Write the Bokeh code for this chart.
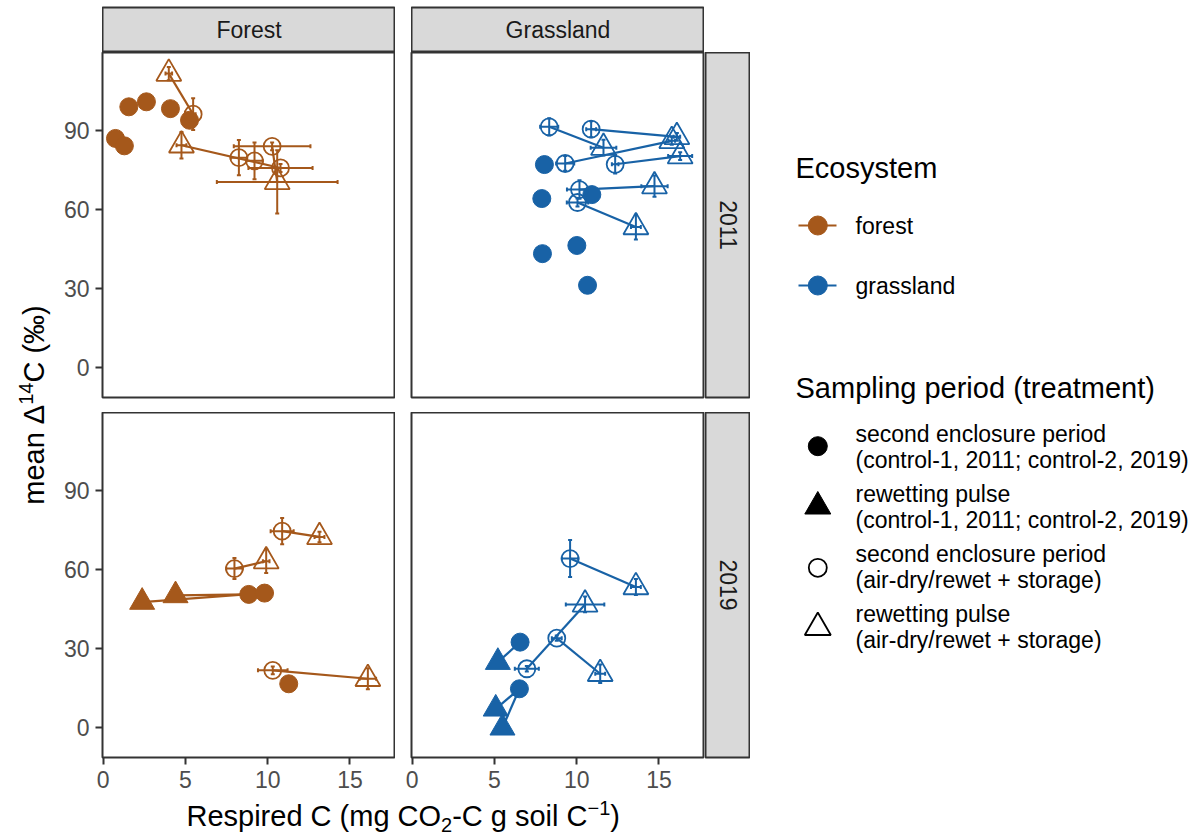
import math
from bokeh.plotting import figure
from bokeh.layouts import row, column
from bokeh.models import Range1d, Label, FixedTicker, Whisker, TeeHead, ColumnDataSource, Spacer
from bokeh.embed import file_html
from bokeh.resources import INLINE

FONT = "Liberation Sans"
BROWN = "#A5581B"
BLUE = "#1862A6"

# ---------------- data ----------------
facet_cols = ["Forest", "Grassland"]
facet_rows = ["2011", "2019"]
x_ticks = [0, 5, 10, 15]
y_ticks = [0, 30, 60, 90]

# Forest 2011
f11_ctl_enc_x = [0.75, 1.29, 1.56, 2.63, 4.09, 5.25]
f11_ctl_enc_y = [87.0, 84.2, 99.0, 100.9, 98.3, 93.9]
f11_ctl_pul_x = []
f11_ctl_pul_y = []
f11_ctl_links = []
f11_dry_enc_x = [5.47, 8.25, 9.20, 10.27, 10.78]
f11_dry_enc_y = [96.2, 79.7, 78.5, 84.0, 75.8]
f11_dry_enc_xe = [0.15, 0.5, 0.5, 2.33, 1.95]
f11_dry_enc_ye = [6.0, 6.7, 7.0, 1.5, 1.5]
f11_dry_pul_x = [3.99, 4.76, 10.58]
f11_dry_pul_y = [111.6, 84.4, 70.5]
f11_dry_pul_xe = [0.2, 0.3, 3.67]
f11_dry_pul_ye = [2.5, 5.0, 12.0]
f11_dry_links = [(0, 0), (4, 1), (3, 2)]

# Grassland 2011
g11_ctl_enc_x = [8.04, 7.88, 10.92, 10.01, 7.92, 10.66]
g11_ctl_enc_y = [77.1, 64.2, 65.7, 46.4, 43.3, 31.3]
g11_ctl_pul_x = []
g11_ctl_pul_y = []
g11_ctl_links = []
g11_dry_enc_x = [8.33, 10.88, 9.30, 12.34, 10.17, 10.05]
g11_dry_enc_y = [91.4, 90.5, 77.5, 77.2, 67.6, 62.7]
g11_dry_enc_xe = [0.55, 0.3, 0.55, 0.2, 0.76, 0.65]
g11_dry_enc_ye = [3.3, 3.0, 2.8, 3.5, 3.5, 1.5]
g11_dry_pul_x = [11.63, 16.09, 15.78, 16.29, 14.73, 13.60]
g11_dry_pul_y = [83.5, 87.6, 86.1, 80.3, 68.9, 53.4]
g11_dry_pul_xe = [0.78, 0.2, 0.2, 0.73, 0.8, 0.3]
g11_dry_pul_ye = [3.0, 1.5, 1.5, 1.5, 4.0, 4.7]
g11_dry_links = [(0, 0), (1, 1), (2, 2), (3, 3), (4, 4), (5, 5)]

# Forest 2019
f19_ctl_enc_x = [8.85, 9.81, 11.28]
f19_ctl_enc_y = [50.6, 51.1, 16.7]
f19_ctl_pul_x = [2.37, 4.40]
f19_ctl_pul_y = [47.7, 50.2]
f19_ctl_links = [(1, 0), (0, 1)]
f19_dry_enc_x = [10.88, 7.98, 10.31]
f19_dry_enc_y = [74.6, 60.4, 21.8]
f19_dry_enc_xe = [0.7, 0.5, 0.9]
f19_dry_enc_ye = [5.0, 4.0, 1.5]
f19_dry_pul_x = [13.15, 9.91, 16.09]
f19_dry_pul_y = [72.4, 63.2, 18.6]
f19_dry_pul_xe = [0.3, 0.2, 0.5]
f19_dry_pul_ye = [2.0, 4.5, 4.0]
f19_dry_links = [(0, 0), (1, 1), (2, 2)]

# Grassland 2019
g19_ctl_enc_x = [6.56, 6.52]
g19_ctl_enc_y = [32.5, 14.8]
g19_ctl_pul_x = [5.21, 5.08, 5.49]
g19_ctl_pul_y = [24.9, 7.2, 0.0]
g19_ctl_links = [(0, 0), (1, 1), (1, 2)]
g19_dry_enc_x = [9.60, 8.79, 6.97]
g19_dry_enc_y = [64.2, 34.0, 22.4]
g19_dry_enc_xe = [0.5, 0.3, 0.73]
g19_dry_enc_ye = [7.0, 1.0, 1.0]
g19_dry_pul_x = [13.60, 10.51, 11.43]
g19_dry_pul_y = [53.4, 46.8, 20.5]
g19_dry_pul_xe = [0.3, 1.17, 0.3]
g19_dry_pul_ye = [3.0, 3.0, 3.5]
g19_dry_links = [(0, 0), (2, 1), (1, 2)]

X_START, X_END = -0.04, 17.77
Y_START, Y_END = -11.26, 119.6

FRAME_W, FRAME_H = 293, 345
BOTTOM_AXIS_H = 40
BASE_FIX = 0.36  # alphabetic-baseline correction (fraction of font size)


def style_axis(ax, ticks):
    ax.ticker = FixedTicker(ticks=ticks)
    ax.axis_label = None
    ax.axis_label_standoff = 0
    ax.axis_line_color = None
    ax.major_tick_line_color = "#333333"
    ax.major_tick_line_width = 2
    ax.major_tick_out = 7
    ax.major_tick_in = 0
    ax.minor_tick_line_color = None
    ax.major_label_text_font = FONT
    ax.major_label_text_font_size = "23px"
    ax.major_label_text_color = "#4D4D4D"
    ax.major_label_standoff = 6


def make_panel(left_axis, bottom_axis, mb_left, mb_bottom):
    p = figure(frame_width=FRAME_W, frame_height=FRAME_H,
               min_border_left=mb_left, min_border_right=0,
               min_border_top=0, min_border_bottom=mb_bottom,
               x_range=Range1d(X_START, X_END), y_range=Range1d(Y_START, Y_END),
               x_axis_location="below" if bottom_axis else None,
               y_axis_location="left" if left_axis else None,
               output_backend="svg", toolbar_location=None,
               background_fill_color="white", border_fill_color="white",
               outline_line_color="#333333", outline_line_width=2)
    p.xgrid.grid_line_color = None
    p.ygrid.grid_line_color = None
    if bottom_axis:
        style_axis(p.xaxis[0], x_ticks)
    if left_axis:
        style_axis(p.yaxis[0], y_ticks)
    return p


def add_links(p, ex, ey, px, py, links, color):
    if not links:
        return
    src = ColumnDataSource(dict(
        x0=[ex[i] for i, j in links], y0=[ey[i] for i, j in links],
        x1=[px[j] for i, j in links], y1=[py[j] for i, j in links]))
    p.segment(x0="x0", y0="y0", x1="x1", y1="y1", source=src,
              line_color=color, line_width=2.2)


def add_errors(p, xs, ys, xe, ye, color):
    src = ColumnDataSource(dict(
        x=xs, y=ys,
        xl=[a - e for a, e in zip(xs, xe)], xu=[a + e for a, e in zip(xs, xe)],
        yl=[a - e for a, e in zip(ys, ye)], yu=[a + e for a, e in zip(ys, ye)]))
    for dim, base, lo, hi in (("height", "x", "yl", "yu"), ("width", "y", "xl", "xu")):
        w = Whisker(source=src, base=base, lower=lo, upper=hi, dimension=dim,
                    line_color=color, line_width=2,
                    lower_head=TeeHead(size=4, line_color=color, line_width=2),
                    upper_head=TeeHead(size=4, line_color=color, line_width=2))
        p.add_layout(w)


def add_points(p, xs, ys, marker, filled, color):
    if not xs:
        return
    src = ColumnDataSource(dict(x=xs, y=ys))
    if marker == "circle":
        size = 18 if filled else 17
    else:
        size = 25
    p.scatter(x="x", y="y", source=src, marker=marker, size=size,
              fill_color=color if filled else None,
              line_color=color, line_width=1 if filled else 1.8)


def fill_panel(p, color, ce_x, ce_y, cp_x, cp_y, c_links,
               de_x, de_y, de_xe, de_ye, dp_x, dp_y, dp_xe, dp_ye, d_links):
    add_links(p, ce_x, ce_y, cp_x, cp_y, c_links, color)
    add_links(p, de_x, de_y, dp_x, dp_y, d_links, color)
    add_errors(p, de_x, de_y, de_xe, de_ye, color)
    add_errors(p, dp_x, dp_y, dp_xe, dp_ye, color)
    add_points(p, ce_x, ce_y, "circle", True, color)
    add_points(p, cp_x, cp_y, "triangle", True, color)
    add_points(p, de_x, de_y, "circle", False, color)
    add_points(p, dp_x, dp_y, "triangle", False, color)


def strip_fig(text, fw, fh, mb_left, mb_top, mb_bottom, angle):
    p = figure(frame_width=fw, frame_height=fh,
               min_border_left=mb_left, min_border_right=0,
               min_border_top=mb_top, min_border_bottom=mb_bottom,
               x_range=Range1d(0, 1), y_range=Range1d(0, 1),
               x_axis_location=None, y_axis_location=None,
               output_backend="svg", toolbar_location=None,
               background_fill_color="#D9D9D9", border_fill_color="white",
               outline_line_color="#333333", outline_line_width=2)
    p.xgrid.grid_line_color = None
    p.ygrid.grid_line_color = None
    p.add_layout(Label(x=0.5, y=0.5, text=text, text_align="center",
                       text_baseline="middle", angle=angle,
                       text_font=FONT, text_font_size="23px", text_color="#1A1A1A"))
    return p


def blank_fig(w, h, xr, yr):
    p = figure(frame_width=w, frame_height=h,
               min_border_left=0, min_border_right=0, min_border_top=0, min_border_bottom=0,
               x_range=Range1d(*xr), y_range=Range1d(*yr),
               x_axis_location=None, y_axis_location=None,
               output_backend="svg", toolbar_location=None,
               background_fill_color="white", border_fill_color="white",
               outline_line_color=None)
    p.xgrid.grid_line_color = None
    p.ygrid.grid_line_color = None
    return p


# ---------------- panels ----------------
p_tl = make_panel(True, False, 50, 15)
fill_panel(p_tl, BROWN, f11_ctl_enc_x, f11_ctl_enc_y, f11_ctl_pul_x, f11_ctl_pul_y, f11_ctl_links,
           f11_dry_enc_x, f11_dry_enc_y, f11_dry_enc_xe, f11_dry_enc_ye,
           f11_dry_pul_x, f11_dry_pul_y, f11_dry_pul_xe, f11_dry_pul_ye, f11_dry_links)
p_tr = make_panel(False, False, 16, 15)
fill_panel(p_tr, BLUE, g11_ctl_enc_x, g11_ctl_enc_y, g11_ctl_pul_x, g11_ctl_pul_y, g11_ctl_links,
           g11_dry_enc_x, g11_dry_enc_y, g11_dry_enc_xe, g11_dry_enc_ye,
           g11_dry_pul_x, g11_dry_pul_y, g11_dry_pul_xe, g11_dry_pul_ye, g11_dry_links)
p_bl = make_panel(True, True, 50, BOTTOM_AXIS_H)
fill_panel(p_bl, BROWN, f19_ctl_enc_x, f19_ctl_enc_y, f19_ctl_pul_x, f19_ctl_pul_y, f19_ctl_links,
           f19_dry_enc_x, f19_dry_enc_y, f19_dry_enc_xe, f19_dry_enc_ye,
           f19_dry_pul_x, f19_dry_pul_y, f19_dry_pul_xe, f19_dry_pul_ye, f19_dry_links)
p_br = make_panel(False, True, 16, BOTTOM_AXIS_H)
fill_panel(p_br, BLUE, g19_ctl_enc_x, g19_ctl_enc_y, g19_ctl_pul_x, g19_ctl_pul_y, g19_ctl_links,
           g19_dry_enc_x, g19_dry_enc_y, g19_dry_enc_xe, g19_dry_enc_ye,
           g19_dry_pul_x, g19_dry_pul_y, g19_dry_pul_xe, g19_dry_pul_ye, g19_dry_links)

# ---------------- strips ----------------
s_forest = strip_fig(facet_cols[0], FRAME_W, 45, 0, 7, 0, 0)
s_grass = strip_fig(facet_cols[1], FRAME_W, 45, 0, 7, 0, 0)
s_2011 = strip_fig(facet_rows[0], 45, FRAME_H, 1, 0, 15, -math.pi / 2)
s_2019 = strip_fig(facet_rows[1], 45, FRAME_H, 1, 0, BOTTOM_AXIS_H, -math.pi / 2)

row_a = row(Spacer(width=50, height=52), s_forest, Spacer(width=16, height=52), s_grass,
            Spacer(width=46, height=52))
row_b = row(p_tl, p_tr, s_2011)
row_c = row(p_bl, p_br, s_2019)

# ---------------- axis titles ----------------
TITLE_PX = 29
SUB_PX = 20
t_kw = dict(text_font=FONT, text_color="black", text_baseline="alphabetic", text_align="left")

# y title (figure 0..52 wide, y measured from the bottom)
p_yt = blank_fig(52, 837, (0, 52), (0, 837))
y_parts = [("mean \u0394", TITLE_PX, 99.96, 0), ("14", SUB_PX, 22.24, -11), ("C (\u2030)", TITLE_PX, 77.3, 0)]
y_total = sum(w for _, _, w, _ in y_parts)
ypos = (837 - 404.5) - y_total / 2
Y_BASE = 44
for txt, fs, w, shift in y_parts:
    p_yt.add_layout(Label(x=Y_BASE + shift - BASE_FIX * fs, y=ypos, text=txt, angle=math.pi / 2,
                          text_font_size=f"{fs}px", **t_kw))
    ypos += w

# x title (page coords: x 52..750, y downward)
XT_TOP = 52 + 360 + FRAME_H + BOTTOM_AXIS_H
p_xt = blank_fig(698, 837 - XT_TOP, (52, 750), (837, XT_TOP))
x_parts = [("Respired C (mg CO", TITLE_PX, 254.6, 0), ("2", SUB_PX, 11.1, 6),
           ("-C g soil C", TITLE_PX, 135.3, 0), ("\u22121", SUB_PX, 22.8, -11),
           (")", TITLE_PX, 9.7, 0)]
x_total = sum(w for _, _, w, _ in x_parts)
xpos = 402.7 - x_total / 2
X_BASE = 826
for txt, fs, w, shift in x_parts:
    p_xt.add_layout(Label(x=xpos, y=X_BASE + shift - BASE_FIX * fs, text=txt,
                          text_font_size=f"{fs}px", **t_kw))
    xpos += w

# ---------------- legend ----------------
p_leg = blank_fig(453, 837, (750, 1203), (837, 0))
KX = 817.3
TX = 855
fix29 = BASE_FIX * 29
fix23 = BASE_FIX * 23
p_leg.add_layout(Label(x=795, y=177.5 - fix29, text="Ecosystem", text_font_size="29px", **t_kw))
eco_names = ["forest", "grassland"]
eco_colors = [BROWN, BLUE]
eco_y = [225, 285]
for name, col, yy in zip(eco_names, eco_colors, eco_y):
    p_leg.segment(x0=[798], y0=[yy], x1=[836], y1=[yy], line_color=col, line_width=2.2)
    p_leg.scatter(x=[KX], y=[yy], marker="circle", size=19, fill_color=col, line_color=col)
    p_leg.add_layout(Label(x=TX, y=yy + 8.3 - fix23, text=name, text_font_size="23px", **t_kw))

p_leg.add_layout(Label(x=795, y=397.5 - fix29, text="Sampling period (treatment)",
                       text_font_size="29px", **t_kw))
shape_lines = [("second enclosure period", "(control-1, 2011; control-2, 2019)"),
               ("rewetting pulse", "(control-1, 2011; control-2, 2019)"),
               ("second enclosure period", "(air-dry/rewet + storage)"),
               ("rewetting pulse", "(air-dry/rewet + storage)")]
shape_marker = ["circle", "triangle", "circle", "triangle"]
shape_filled = [True, True, False, False]
shape_y = [445.7, 506, 567.3, 627]
text_y = [441.7, 501.7, 561.7, 621.7]
for (l1, l2), mk, fl, yy, ty in zip(shape_lines, shape_marker, shape_filled, shape_y, text_y):
    size = (19 if fl else 18) if mk == "circle" else 26
    p_leg.scatter(x=[KX], y=[yy], marker=mk, size=size,
                  fill_color="black" if fl else None, line_color="black",
                  line_width=1 if fl else 1.8)
    p_leg.add_layout(Label(x=TX, y=ty - fix23, text=l1, text_font_size="23px", **t_kw))
    p_leg.add_layout(Label(x=TX, y=ty + 25.6 - fix23, text=l2, text_font_size="23px", **t_kw))

layout = row(p_yt, column(row_a, row_b, row_c, p_xt), p_leg)

open("out.html", "w").write(file_html(layout, INLINE, "Respired C vs mean D14C"))
